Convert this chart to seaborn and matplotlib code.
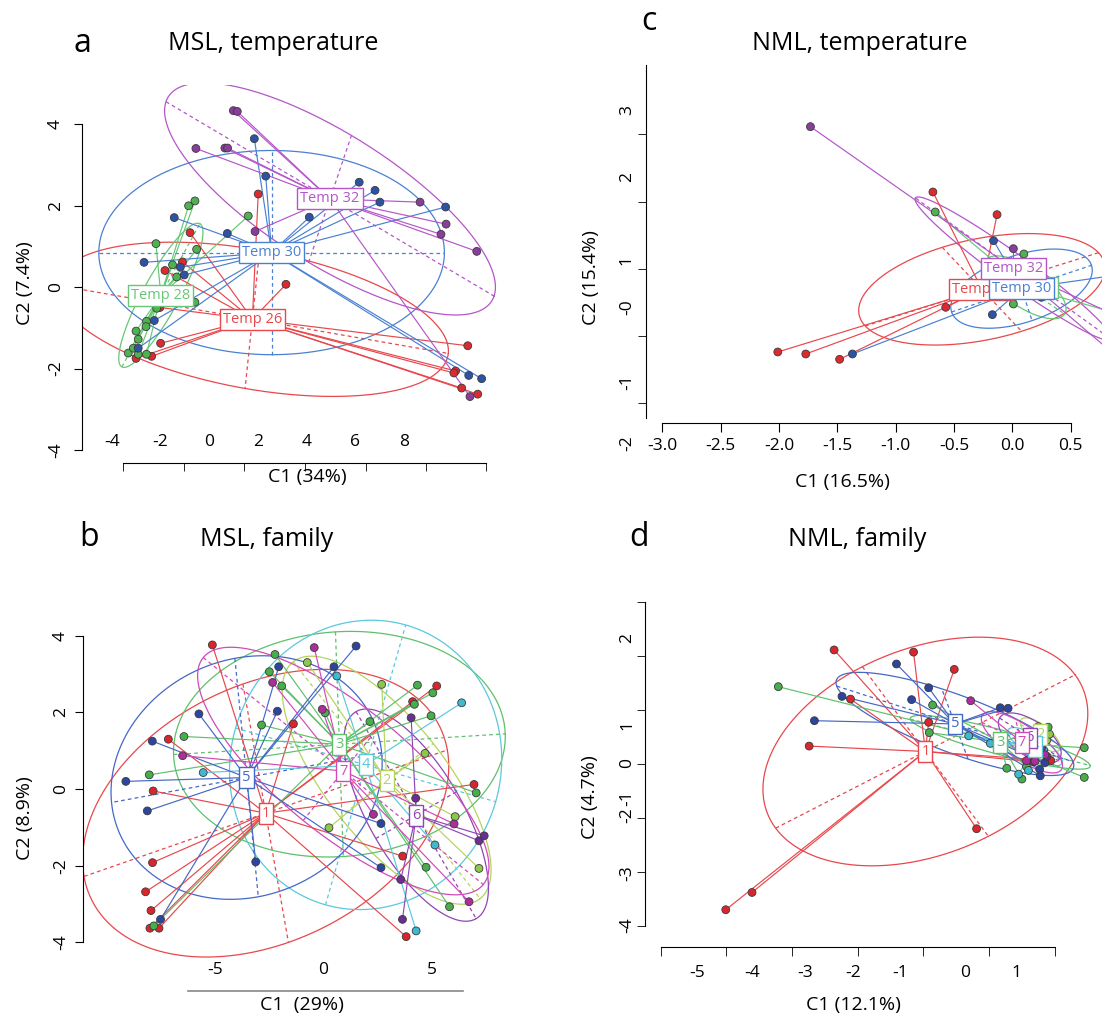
import numpy as np
import pandas as pd
import matplotlib.pyplot as plt
import seaborn as sns

sns.set_style("ticks")
plt.rcParams['font.family'] = ['Open Sans', 'DejaVu Sans']
plt.rcParams['axes.unicode_minus'] = False
plt.rcParams['text.color'] = 'black'
plt.rcParams['axes.edgecolor'] = 'black'
plt.rcParams['xtick.color'] = 'black'
plt.rcParams['ytick.color'] = 'black'
plt.rcParams['xtick.labelcolor'] = 'black'
plt.rcParams['ytick.labelcolor'] = 'black'

# ---------------- colours ----------------
temp_line = {'Temp 26': '#E8474B', 'Temp 28': '#67C776', 'Temp 30': '#4A80D2', 'Temp 32': '#B456C9'}
temp_dot = {'Temp 26': '#DC2A2F', 'Temp 28': '#4DB24F', 'Temp 30': '#2D53A6', 'Temp 32': '#8B3D9E'}
fam_line = {'1': '#E8474B', '2': '#B5D35E', '3': '#5FC06C', '4': '#5BC8DC',
            '5': '#4468C8', '6': '#9047B5', '7': '#D04AB8'}
fam_dot = {'1': '#D8262C', '2': '#8CC84B', '3': '#47AE4C', '4': '#3FB8D2',
           '5': '#2C45A0', '6': '#6A2E94', '7': '#B02C9C'}

# ---------------- panel a: MSL, temperature ----------------
a_x = [2.01, -0.79, -1.82, -1.10, 3.15, -2.03, -2.00, -3.01, -2.37, 10.62, 10.12, 10.37, 11.03, 10.05,
       -0.59, -0.85, 1.60, -2.19, -0.52, -1.51, -1.34, -0.59, -2.16, -2.58, -2.60, -3.01, -2.92, -3.33, -3.12, -2.58, -2.92,
       1.85, 2.32, 6.16, 6.81, 7.01, 9.71, 4.11, -1.44, 0.74, -2.68, -1.19, -1.03, -2.26, -2.92, 10.66, 11.19,
       0.99, 1.15, -0.55, 0.64, 0.75, 1.88, 8.66, 9.73, 9.52, 10.99, 10.71]
a_y = [2.29, 1.34, 0.41, 0.62, 0.07, -0.50, -1.38, -1.75, -1.70, -1.44, -2.06, -2.48, -2.63, -2.11,
       2.12, 2.00, 1.75, 1.07, 0.93, 0.55, 0.25, -0.37, -0.52, -0.84, -0.97, -1.08, -1.28, -1.62, -1.50, -1.65, -1.65,
       3.65, 2.73, 2.58, 2.38, 2.09, 1.97, 1.72, 1.71, 1.32, 0.61, 0.49, 0.30, -0.82, -1.50, -2.17, -2.25,
       4.34, 4.32, 3.41, 3.42, 3.42, 1.37, 2.09, 1.55, 1.30, 0.88, -2.69]
a_grp = ['Temp 26'] * 14 + ['Temp 28'] * 17 + ['Temp 30'] * 16 + ['Temp 32'] * 11
a_classes = ['Temp 26', 'Temp 28', 'Temp 30', 'Temp 32']
a_cx = [1.77, -1.99, 2.56, 4.96]
a_cy = [-0.79, -0.20, 0.85, 2.17]
a_ell = [(8.05, -0.84, -0.30, -1.70), (1.60, 1.76, 0.66, -0.21),
         (7.10, 0.00, 0.00, 2.51), (6.74, -2.39, 0.88, 1.56)]
a_yticks = [-4, -2, 0, 2, 4]
a_xlabels = [-4, -2, 0, 2, 4, 6, 8]
a_xmarks = [-3.53, -1.04, 1.44, 3.92, 6.42, 8.90, 11.36]

# ---------------- panel b: MSL, family ----------------
b_x = [-5.12, -7.15, -7.85, -7.88, -8.20, -7.95, -8.00, -7.58, -1.38, 5.23, 4.12, 6.95, 3.66, 3.82,
       2.69, -0.74, 0.26, 7.18, 4.69, 6.08,
       -2.23, -2.49, -1.92, -6.43, -8.03, -2.85, 0.08, 4.34, 5.05, 4.20, 4.97, 2.15, 7.05, 4.74, 5.82, -7.82,
       0.62, -5.54, 6.38, 5.15, 4.28,
       1.51, -2.06, -5.74, -2.12, -7.89, -9.11, -8.12, -3.12, 2.66, 2.66, -7.51, 0.49,
       4.05, 4.26, 7.18, 7.42, 3.57, 3.65,
       -0.42, -2.34, -6.49, -0.05, 2.31, 6.03, 6.72]
b_y = [3.76, 1.30, -0.05, -1.92, -2.68, -3.17, -3.63, -3.63, 1.70, 2.69, 2.28, 0.12, -1.75, -3.85,
       2.73, 3.30, -1.01, -2.07, 0.93, -0.72,
       3.51, 3.06, 2.69, 1.37, 0.37, 1.67, 1.99, 2.71, 2.51, 2.21, 1.91, 1.76, -0.10, -2.04, -3.07, -3.57,
       2.95, 0.43, 2.25, -1.46, -3.70,
       3.73, 3.19, 1.96, 2.03, 1.25, 0.20, -0.57, -1.90, -0.90, -2.05, -3.40, 3.19,
       1.86, -0.24, -1.35, -1.22, -2.36, -3.40,
       3.69, 2.78, 0.87, 2.08, -0.66, -0.91, -2.94]
b_grp = ['1'] * 14 + ['2'] * 6 + ['3'] * 16 + ['4'] * 5 + ['5'] * 12 + ['6'] * 6 + ['7'] * 7
b_classes = ['1', '2', '3', '4', '5', '6', '7']
b_cx = [-2.66, 2.92, 0.74, 1.95, -3.54, 4.28, 0.92]
b_cy = [-0.63, 0.23, 1.17, 0.63, 0.30, -0.68, 0.47]
b_ell = [(8.38, 1.65, 1.05, -3.37), (4.31, -3.09, 2.15, 0.96), (7.65, 0.27, 0.18, -2.93),
         (6.00, -0.96, 1.85, 3.65), (-6.23, -0.65, 0.54, -3.11), (2.77, -2.70, 1.86, 0.61),
         (6.46, -2.96, 1.85, 1.29)]
b_yticks = [-4, -2, 0, 2, 4]
b_xlabels = [-5, 0, 5]

# ---------------- panel c: NML, temperature ----------------
c_x = [-0.68, -0.13, -0.57, -2.01, -1.77, -1.48,
       -0.66, 0.10, 0.01, 1.00,
       -0.16, -0.17, -1.37, 0.25, 1.00,
       -1.73, 0.01, 1.00, 1.00]
c_y = [1.77, 1.43, 0.04, -0.63, -0.66, -0.74,
       1.47, 0.84, 0.09, -0.10,
       1.04, -0.07, -0.66, 0.19, 0.55,
       2.75, 0.92, -0.17, -0.85]
c_grp = ['Temp 26'] * 6 + ['Temp 28'] * 4 + ['Temp 30'] * 5 + ['Temp 32'] * 4
c_cx = [-0.26, 0.11, 0.08, 0.01]
c_cy = [0.31, 0.34, 0.32, 0.62]
c_ell = [(1.00, 0.55, 0.34, -0.63), (0.34, -0.40, 0.09, 0.25),
         (0.60, 0.35, 0.09, -0.48), (-0.84, 1.06, 0.07, 0.18)]
c_xticks = [-3.0, -2.5, -2.0, -1.5, -1.0, -0.5, 0.0, 0.5]
c_ylab_pos = [3.0, 2.0, 0.75, 0.05, -1.08, -2.0]
c_ylab_txt = ['3', '2', '1', '-0', '-1', '-2']
c_ymarks = [2.64, 1.625, 0.615, -0.39, -1.39]

# ---------------- panel d: NML, family ----------------
d_x = [-2.36, -1.15, -0.53, -2.11, -2.74, -0.92, -0.19, -3.61, -4.01, 0.94, 0.68,
       0.75, 0.88, 0.92,
       -3.21, -0.86, -0.91, 0.27, 0.50, 0.90, 0.57, 1.45, 1.45,
       0.45, 0.83, 0.02, 0.60, -0.31,
       -1.41, -0.92, -2.24, -1.18, -2.66, 0.17, 0.29, 0.77, 0.78, 0.85,
       0.73, 0.88, 0.80,
       -0.28, 0.57, 0.85, 0.70]
d_y = [2.11, 2.07, 1.75, 1.20, 0.33, 0.77, -1.20, -2.38, -2.70, 0.06, 0.04,
       0.69, 0.44, 0.55,
       1.43, 1.09, 0.58, -0.08, -0.28, 0.68, -0.05, 0.30, -0.25,
       -0.19, 0.26, 0.38, -0.12, 0.52,
       1.85, 1.41, 1.25, 1.19, 0.80, 1.04, 1.03, -0.10, -0.22, 0.02,
       0.51, 0.14, 0.30,
       1.17, 0.06, 0.17, 0.05]
d_grp = ['1'] * 11 + ['2'] * 3 + ['3'] * 9 + ['4'] * 5 + ['5'] * 10 + ['6'] * 3 + ['7'] * 4
d_cx = [-0.97, 0.78, 0.17, 0.70, -0.52, 0.62, 0.50]
d_cy = [0.23, 0.54, 0.40, 0.32, 0.74, 0.48, 0.40]
d_ell = [(2.28, 1.42, 0.96, -1.57), (0.30, -0.19, -0.05, 0.25), (1.37, -0.43, -0.05, 0.25),
         (0.41, -0.25, -0.05, 0.25), (1.80, -0.70, -0.20, 0.65), (0.46, -0.37, -0.13, -0.28),
         (0.61, -0.37, -0.10, 0.43)]
d_xmarks = [-5, -4, -3, -2, -1, 0, 1]
d_xlab_pos = [-4.44, -3.61, -2.80, -2.07, -1.36, -0.37, 0.42]
d_xlab_txt = ['-5', '-4', '-3', '-2', '-1', '0', '1']
d_ymarks = [-3, -2, -1, 0, 1, 2, 3]
d_ylab_pos = [2.33, 0.72, 0.02, -0.64, -0.94, -2.02, -2.98]
d_ylab_txt = ['2', '1', '0', '-1', '-2', '-3', '-4']

W, H = 1102, 1019
fig = plt.figure(figsize=(W / 100, H / 100), dpi=100)


def add_ax(left, top, right, bottom):
    return fig.add_axes([left / W, 1 - bottom / H, (right - left) / W, (bottom - top) / H])


def ftext(x, y, s, **kw):
    fig.text(x / W, 1 - y / H, s, ha='center', va='center', color='black', **kw)


def draw_panel(ax, xs, ys, grp, classes, cx, cy, ell, line_cols, dot_cols, lab_size):
    df = pd.DataFrame({'C1': xs, 'C2': ys, 'grp': grp})
    t = np.linspace(0, 2 * np.pi, 300)
    for k, g in enumerate(classes):
        col = line_cols[g]
        ux, uy, vx, vy = ell[k]
        ax.plot(cx[k] + ux * np.cos(t) + vx * np.sin(t), cy[k] + uy * np.cos(t) + vy * np.sin(t),
                color=col, lw=0.9, zorder=1)
        ax.plot([cx[k] - ux, cx[k] + ux], [cy[k] - uy, cy[k] + uy], color=col, lw=0.9,
                ls=(0, (3, 2.5)), zorder=1)
        ax.plot([cx[k] - vx, cx[k] + vx], [cy[k] - vy, cy[k] + vy], color=col, lw=0.9,
                ls=(0, (3, 2.5)), zorder=1)
    for k, g in enumerate(classes):
        sub = df[df.grp == g]
        for x, y in zip(sub.C1, sub.C2):
            ax.plot([cx[k], x], [cy[k], y], color=line_cols[g], lw=0.85, zorder=2)
    sns.scatterplot(data=df, x='C1', y='C2', hue='grp', palette=dot_cols, s=32,
                    edgecolor='#3a3a3a', linewidth=0.6, legend=False, ax=ax, zorder=3)
    for k, g in enumerate(classes):
        ax.text(cx[k], cy[k], g, color=line_cols[g], ha='center', va='center', fontsize=lab_size,
                bbox=dict(boxstyle='square,pad=0.2', fc='white', ec=line_cols[g], lw=1.0), zorder=5 + k)
    ax.set_xlabel('')
    ax.set_ylabel('')
    ax.spines['top'].set_visible(False)
    ax.spines['right'].set_visible(False)
    ax.patch.set_alpha(0)


tick_fs = 12.5

# ---- a
ax = add_ax(82, 85, 505, 463.3)
draw_panel(ax, a_x, a_y, a_grp, a_classes, a_cx, a_cy, a_ell, temp_line, temp_dot, 10.5)
ax.set_xlim(-5.23, 12.15)
ax.set_ylim(-4.33, 4.97)
ax.spines['left'].set_bounds(-4, 4)
ax.spines['bottom'].set_bounds(a_xmarks[0], a_xmarks[-1])
ax.set_yticks(a_yticks, [str(v) for v in a_yticks], rotation=90, va='center', fontsize=tick_fs)
ax.tick_params(axis='y', length=6, pad=7)
ax.set_xticks(a_xlabels, [str(v) for v in a_xlabels], fontsize=tick_fs)
ax.set_xticks(a_xmarks, minor=True)
ax.tick_params(axis='x', which='major', length=0, pad=-21)
ax.tick_params(axis='x', which='minor', length=6, direction='out')

# ---- b
ax = add_ax(82.7, 615, 510, 990.7)
draw_panel(ax, b_x, b_y, b_grp, b_classes, b_cx, b_cy, b_ell, fam_line, fam_dot, 10.5)
ax.set_xlim(-11.10, 8.61)
ax.set_ylim(-5.26, 4.54)
ax.spines['left'].set_bounds(-4, 4)
ax.spines['bottom'].set_bounds(-6.23, 6.46)
ax.spines['bottom'].set_color('#888888')
ax.spines['bottom'].set_linewidth(1.2)
ax.set_yticks(b_yticks, [str(v) for v in b_yticks], rotation=90, va='center', fontsize=tick_fs)
ax.tick_params(axis='y', length=6, pad=4)
ax.set_xticks(b_xlabels, [str(v) for v in b_xlabels], fontsize=tick_fs)
ax.set_xticks([0], minor=True)
ax.tick_params(axis='x', which='major', length=0, pad=-21)
ax.tick_params(axis='x', which='minor', length=5, direction='in', color='#666666')

# ---- c
ax = add_ax(646, 60, 1102, 453.3)
draw_panel(ax, c_x, c_y, c_grp, a_classes, c_cx, c_cy, c_ell, temp_line, temp_dot, 10.5)
ax.set_xlim(-3.14, 0.77)
ax.set_ylim(-2.15, 3.75)
ax.spines['bottom'].set_position(('data', -1.70))
ax.spines['bottom'].set_bounds(-3.0, 0.5)
ax.spines['left'].set_bounds(-1.625, 3.675)
ax.set_xticks(c_xticks, ['%.1f' % v for v in c_xticks], fontsize=tick_fs)
ax.tick_params(axis='x', length=6.5, pad=4)
ax.set_yticks(c_ylab_pos, c_ylab_txt, rotation=90, va='center', fontsize=tick_fs)
ax.set_yticks(c_ymarks, minor=True)
ax.tick_params(axis='y', which='major', length=0, pad=8)
ax.tick_params(axis='y', which='minor', length=6, direction='out')

# ---- d
ax = add_ax(645, 590, 1102, 947)
draw_panel(ax, d_x, d_y, d_grp, b_classes, d_cx, d_cy, d_ell, fam_line, fam_dot, 10.5)
ax.set_xlim(-5.24, 1.72)
ax.set_ylim(-3.39, 3.22)
ax.spines['bottom'].set_bounds(-5, 1)
ax.spines['left'].set_bounds(-3, 3)
ax.set_xticks(d_xlab_pos, d_xlab_txt, fontsize=tick_fs)
ax.set_xticks(d_xmarks, minor=True)
ax.tick_params(axis='x', which='major', length=0, pad=13)
ax.tick_params(axis='x', which='minor', length=6.5, direction='out')
ax.set_yticks(d_ylab_pos, d_ylab_txt, rotation=90, va='center', fontsize=tick_fs)
ax.set_yticks(d_ymarks, minor=True)
ax.tick_params(axis='y', which='major', length=0, pad=7)
ax.tick_params(axis='y', which='minor', length=6, direction='out')

# ---- axis titles and panel headings
lab_fs = 14
ftext(25, 283, 'C2 (7.4%)', rotation=90, fontsize=lab_fs)
ftext(307, 477, 'C1 (34%)', fontsize=lab_fs)
ftext(25, 818, 'C2 (8.9%)', rotation=90, fontsize=lab_fs)
ftext(302, 1005, 'C1  (29%)', fontsize=lab_fs)
ftext(591, 278, 'C2 (15.4%)', rotation=90, fontsize=lab_fs)
ftext(842, 482, 'C1 (16.5%)', fontsize=lab_fs)
ftext(590, 797, 'C2 (4.7%)', rotation=90, fontsize=lab_fs)
ftext(853, 1005, 'C1 (12.1%)', fontsize=lab_fs)

ftext(82, 43, 'a', fontsize=23)
ftext(273, 43, 'MSL, temperature', fontsize=18)
ftext(649, 22, 'c', fontsize=23)
ftext(860, 43, 'NML, temperature', fontsize=18)
ftext(89, 538, 'b', fontsize=23)
ftext(267, 540, 'MSL, family', fontsize=18)
ftext(639, 538, 'd', fontsize=23)
ftext(857, 540, 'NML, family', fontsize=18)

fig.savefig('out.png', dpi=100)
